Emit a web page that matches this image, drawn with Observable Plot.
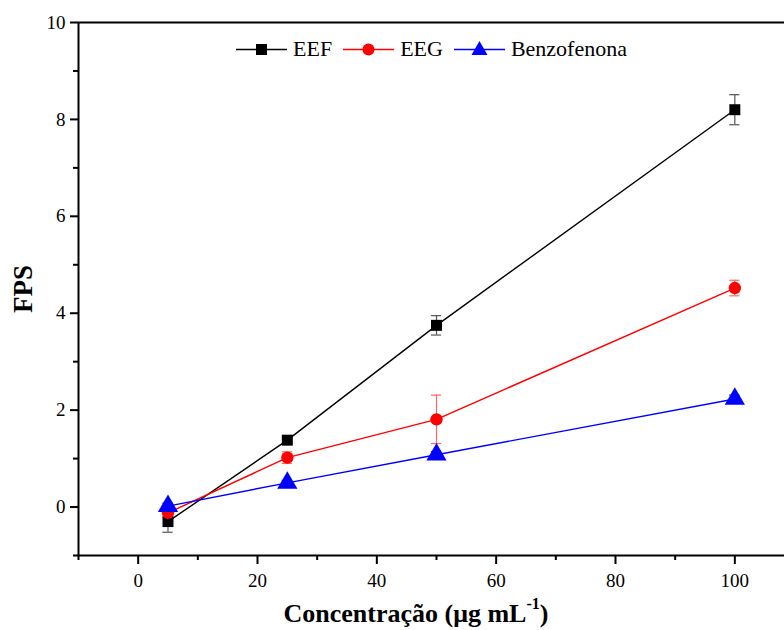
<!DOCTYPE html>
<html><head><meta charset="utf-8">
<script src="https://cdn.jsdelivr.net/npm/d3@7"></script>
<script src="https://cdn.jsdelivr.net/npm/@observablehq/plot@0.6"></script>
<style>
html,body{margin:0;padding:0;overflow:hidden;background:#fff;width:784px;height:630px}
#wrap{position:relative;width:784px;height:630px;overflow:hidden;font-family:"Liberation Serif","Times New Roman","DejaVu Serif",serif}
#wrap > svg{font-family:"Liberation Serif","Times New Roman","DejaVu Serif",serif !important;max-width:none !important;width:800px !important;height:630px !important}
g[aria-label="y-axis label"] text{font-weight:bold;font-size:27px}
#xlabel{position:absolute;left:0;width:832px;top:592px;text-align:center;font-size:26px;font-weight:bold;color:#000;line-height:30px}
#xlabel sup{font-size:16px;position:relative;top:-3px}
#legend{position:absolute;left:236px;top:36px;display:flex;align-items:center;font-size:22px;color:#000;white-space:nowrap}
.item{display:flex;align-items:center;margin-right:11px}
.item span{margin-left:6px}
.item svg{width:51px;height:19px;flex:none}
</style></head>
<body><div id="wrap"></div>
<script>
const conc = [5, 25, 50, 100];
const eef = [-0.3, 1.38, 3.75, 8.2];
const eefErr = [0.22, 0.06, 0.2, 0.31];
const eeg = [-0.12, 1.02, 1.81, 4.52];
const eegErr = [0.1, 0.12, 0.5, 0.16];
const benzo = [0.02, 0.5, 1.08, 2.23];
const benzoErr = [0.06, 0.05, 0.06, 0.08];
const seriesNames = ["EEF", "EEG", "Benzofenona"];
const colors = ["#000000", "#ff0000", "#0000ff"];
const errColors = ["#555555", "#ff6666", "#0000ff"];
const symbols = ["square", "circle", "triangle"];
const yTicks = [0, 2, 4, 6, 8, 10];
const yMinor = [-1, 1, 3, 5, 7, 9];
const xTicks = [0, 20, 40, 60, 80, 100];
const xMinor = [-10, 10, 30, 50, 70, 90, 110];

const vals = [eef, eeg, benzo];
const errs = [eefErr, eegErr, benzoErr];
const data = [];
seriesNames.forEach((s, i) => conc.forEach((c, j) => data.push({
  series: s, idx: i, x: c, y: vals[i][j], lo: vals[i][j] - errs[i][j], hi: vals[i][j] + errs[i][j]
})));
const capW = 0.85;

const marks = [];
seriesNames.forEach((s, i) => {
  const d = data.filter(r => r.idx === i);
  marks.push(Plot.line(d, {x: "x", y: "y", stroke: colors[i], strokeWidth: 1.4}));
  marks.push(Plot.ruleX(d, {x: "x", y1: "lo", y2: "hi", stroke: errColors[i], strokeWidth: 1.2}));
  marks.push(Plot.ruleY(d, {y: "lo", x1: r => r.x - capW, x2: r => r.x + capW, stroke: errColors[i], strokeWidth: 1.2}));
  marks.push(Plot.ruleY(d, {y: "hi", x1: r => r.x - capW, x2: r => r.x + capW, stroke: errColors[i], strokeWidth: 1.2}));
});
seriesNames.forEach((s, i) => {
  const d = data.filter(r => r.idx === i);
  const r = i === 0 ? 6.2 : i === 1 ? 6.2 : 7.5;
  marks.push(Plot.dot(d, {x: "x", y: "y", fill: colors[i], stroke: "none", symbol: () => symbols[i], r}));
});

const chart = Plot.plot({
  width: 800, height: 630,
  marginLeft: 78, marginRight: 6, marginTop: 22, marginBottom: 75,
  x: {domain: [-10, 110]},
  y: {domain: [-1, 10]},
  style: {fontSize: "19px", fontFamily: "'Liberation Serif', 'Times New Roman', serif", color: "#000", background: "#fff", overflow: "visible", maxWidth: "none"},
  marks: [
    Plot.axisY(yTicks, {tickSize: 8, tickPadding: 5, strokeWidth: 2, fontSize: 19, label: "FPS", labelAnchor: "center", labelArrow: "none", labelOffset: 66}),
    Plot.axisY(yMinor, {tickSize: 5, strokeWidth: 2, text: null, label: null}),
    Plot.axisX(xTicks, {tickSize: 9, tickPadding: 9, strokeWidth: 2, fontSize: 19, label: null}),
    Plot.axisX(xMinor, {tickSize: 5, strokeWidth: 2, text: null, label: null}),
    ...marks,
    Plot.frame({stroke: "#000", strokeWidth: 2})
  ]
});
const wrap = document.getElementById("wrap");
wrap.appendChild(chart);

// legend
const leg = document.createElement("div");
leg.id = "legend";
const glyph = (i) => {
  const c = colors[i];
  let m = "";
  if (symbols[i] === "square") m = `<rect x="20" y="4" width="11" height="11" fill="${c}"/>`;
  else if (symbols[i] === "circle") m = `<circle cx="25.5" cy="9.5" r="6" fill="${c}"/>`;
  else m = `<polygon points="25.5,1 33.5,15 17.5,15" fill="${c}"/>`;
  return `<svg width="51" height="19" viewBox="0 0 51 19"><line x1="0" x2="51" y1="9.5" y2="9.5" stroke="${c}" stroke-width="1.4"/>${m}</svg>`;
};
seriesNames.forEach((s, i) => {
  const it = document.createElement("div");
  it.className = "item";
  it.innerHTML = glyph(i) + `<span>${s}</span>`;
  leg.appendChild(it);
});
wrap.appendChild(leg);

const xl = document.createElement("div");
xl.id = "xlabel";
xl.innerHTML = "Concentração (μg mL<sup>-1</sup>)";
wrap.appendChild(xl);
</script></body></html>
